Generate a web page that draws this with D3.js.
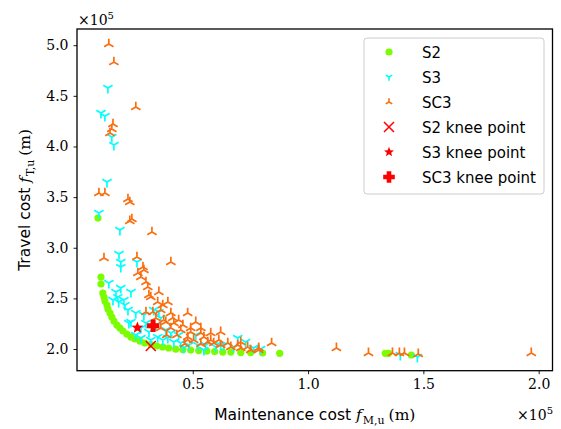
<!DOCTYPE html>
<html><head><meta charset="utf-8">
<script src="https://cdn.jsdelivr.net/npm/d3@7"></script>
<style>
html,body{margin:0;padding:0;background:#fff;}
svg{display:block;}
.tick text{font-family:"DejaVu Serif",serif;}
</style></head>
<body>
<svg id="chart" width="561" height="429"></svg>
<script>
// ---- data (values in metres) ----
const s2X = [8900,10200,10200,11000,11500,11900,12800,13200,14100,14900,15800,17100,18400,19700,21400,23200,24900,27100,29200,31800,34400,37000,39600,42600,45700,49100,52600,56100,59500,63000,66500,70800,75100,80300,87700,133500,134900,144800];
const s2Y = [329300,271100,264200,255300,251300,247400,243400,239500,235500,231600,227600,223700,220700,217800,214800,211800,209900,207900,205900,204400,203000,202000,201000,200000,199500,199000,198500,198000,197500,197000,197000,196500,196500,196100,195800,195800,195800,194100];

const s3X = [13200,10200,11900,14900,15800,12800,9300,18400,18000,18800,18800,25800,13600,18800,23200,17500,20100,17900,21900,25300,28800,33100,35300,36100,23200,29700,20600,27500,31000,34800,37000,39200,41800,44800,48300,52200,55600,60000,63400,69500,72900,67700,76400,79400,46100,54800,62100,140000,147400,31800,27500,34000,40500,15400,16700,51300,43900,38300,25300,22300];
const s3Y = [457700,433000,430000,409300,401400,364900,334300,317500,293800,285900,280900,285900,265200,260200,256300,251300,248400,246400,238500,235500,233600,238500,236500,230600,226700,225700,243400,220700,216800,211800,208900,210900,206900,205900,203900,203900,203900,202000,203900,210900,206900,202000,201000,200000,201000,199000,203900,194100,192100,208900,210900,223700,215800,248400,256300,213800,213800,218800,213800,225700];

const sc3X = [13600,15800,25300,15400,14900,14100,9300,11900,21900,22700,23600,22700,32300,11500,25800,40500,28400,26200,28800,27500,29700,30500,35300,31800,39200,34800,47800,36100,40500,32700,29700,41800,37400,44800,49100,53500,62100,56500,65200,69500,47800,51300,49100,53500,57800,54800,47800,50400,70800,73800,78600,66500,62100,59100,84200,75100,78600,70800,112300,126200,136600,139600,141800,147800,196800,38700,43100,40500,36100,38300,34000,43900,31000,37000,41300,45700,61300,53500,57800,46500];
const sc3Y = [501100,483300,438900,422100,417200,413200,354000,354000,348100,345100,328300,326400,315500,289800,290800,285900,280900,275000,278000,271100,266100,261200,256300,251300,246400,246400,235500,238500,235500,236500,236500,225700,228600,218800,216800,215800,216800,206900,205900,203900,208900,226700,220700,220700,208900,211800,211800,208900,206900,202000,201000,202000,203900,205900,205900,199000,199000,201000,201000,196100,196100,196100,196100,195100,196100,213800,213800,220700,220700,226700,230600,228600,253300,243400,230600,223700,208900,204900,215800,204900];

const kneeNames = ["S2 knee point","S3 knee point","SC3 knee point"];
const kneeX = [31800,26000,32800];
const kneeY = [203000,221000,223000];

const xTicks = [50000,100000,150000,200000];
const yTicks = [200000,250000,300000,350000,400000,450000,500000];
const legendLabels = ["S2","S3","SC3","S2 knee point","S3 knee point","SC3 knee point"];

// ---- layout ----
const L = 77, R = 552.5, T = 29, B = 370.7;
const svg = d3.select("#chart");
const x = d3.scaleLinear().domain([-200, 206000]).range([L, R]);
const y = d3.scaleLinear().domain([178600, 516000]).range([B, T]);

const cGreen = "#7cfc00", cCyan = "#00ffff", cOrange = "#fa6e10", cRed = "#ff0000";

function triPath(r, up) {
  const s = up ? 1 : -1;
  const a = r * Math.sin(Math.PI / 3), b = r * Math.cos(Math.PI / 3);
  return `M0,0L0,${-s*r}M0,0L${-a},${s*b}M0,0L${a},${s*b}`;
}
function starPath(ro, ri) {
  let p = "";
  for (let i = 0; i < 10; i++) {
    const r = i % 2 ? ri : ro, ang = -Math.PI/2 + i*Math.PI/5;
    p += (i ? "L" : "M") + (r*Math.cos(ang)).toFixed(2) + "," + (r*Math.sin(ang)).toFixed(2);
  }
  return p + "Z";
}
function plusPath(h, w) {
  return `M${-w},${-h}H${w}V${-w}H${h}V${w}H${w}V${h}H${-w}V${w}H${-h}V${-w}H${-w}Z`;
}

const g = svg.append("g");
g.append("g").selectAll("circle").data(d3.range(s2X.length)).join("circle")
  .attr("cx", i => x(s2X[i])).attr("cy", i => y(s2Y[i])).attr("r", 3.6).attr("fill", cGreen);
g.append("g").selectAll("path").data(d3.range(s3X.length)).join("path")
  .attr("transform", i => `translate(${x(s3X[i])},${y(s3Y[i])})`)
  .attr("d", triPath(5.4, false)).attr("stroke", cCyan).attr("stroke-width", 1.7).attr("fill", "none");
g.append("g").selectAll("path").data(d3.range(sc3X.length)).join("path")
  .attr("transform", i => `translate(${x(sc3X[i])},${y(sc3Y[i])})`)
  .attr("d", triPath(5.4, true)).attr("stroke", cOrange).attr("stroke-width", 1.7).attr("fill", "none");
g.append("path").attr("transform", `translate(${x(kneeX[0])},${y(kneeY[0])})`)
  .attr("d", "M-5,-5L5,5M-5,5L5,-5").attr("stroke", cRed).attr("stroke-width", 1.5);
g.append("path").attr("transform", `translate(${x(kneeX[1])},${y(kneeY[1])})`)
  .attr("d", starPath(6.2, 2.7)).attr("fill", cRed);
g.append("path").attr("transform", `translate(${x(kneeX[2])},${y(kneeY[2])})`)
  .attr("d", plusPath(6.2, 2.5)).attr("fill", cRed);

// axes
const fmt = d => (d/1e5).toFixed(1);
const xAxis = svg.append("g").attr("transform", `translate(0,${B})`)
  .call(d3.axisBottom(x).tickValues(xTicks).tickFormat(fmt).tickSize(3.5).tickPadding(5));
const yAxis = svg.append("g").attr("transform", `translate(${L},0)`)
  .call(d3.axisLeft(y).tickValues(yTicks).tickFormat(fmt).tickSize(3.5).tickPadding(5));
[xAxis, yAxis].forEach(a => {
  a.select(".domain").remove();
  a.selectAll(".tick line").attr("stroke", "#000").attr("stroke-width", 0.9);
  a.selectAll(".tick text").attr("font-size", 14).attr("fill", "#000");
});
svg.append("rect").attr("x", L).attr("y", T).attr("width", R-L).attr("height", B-T)
  .attr("fill", "none").attr("stroke", "#000").attr("stroke-width", 1.3);

function offsetText(xx, yy, anchor) {
  const t = svg.append("text").attr("x", xx).attr("y", yy).attr("text-anchor", anchor)
    .attr("font-family", "DejaVu Serif, serif").attr("font-size", 14);
  t.append("tspan").text("×10");
  t.append("tspan").attr("dy", -6).attr("font-size", 10).text("5");
}
offsetText(78, 25, "start");
offsetText(553, 420, "end");

function axisLabel(sel, word, sub) {
  sel.append("tspan").attr("font-family", "DejaVu Sans, sans-serif").text(word + " ");
  sel.append("tspan").attr("font-family", "DejaVu Serif, serif").attr("font-style", "italic").text("f");
  sel.append("tspan").attr("font-family", "DejaVu Serif, serif").attr("font-size", 11).attr("dy", 3.5).attr("dx", 1).text(sub);
  sel.append("tspan").attr("font-family", "DejaVu Serif, serif").attr("dy", -3.5).attr("dx", 4).text("(m)");
}
const xl = svg.append("text").attr("x", (L+R)/2).attr("y", 420).attr("text-anchor", "middle").attr("font-size", 15.5);
axisLabel(xl, "Maintenance cost", "M,u");
const yl = svg.append("text").attr("transform", `translate(30,${(T+B)/2}) rotate(-90)`).attr("text-anchor", "middle").attr("font-size", 15.5);
axisLabel(yl, "Travel cost", "T,u");

// legend
const lg = svg.append("g");
lg.append("rect").attr("x", 364).attr("y", 38).attr("width", 180).attr("height", 156).attr("rx", 3)
  .attr("fill", "#fff").attr("fill-opacity", 0.8).attr("stroke", "#cccccc").attr("stroke-width", 1);
const ly0 = 52, ldy = 25, lmx = 389;
legendLabels.forEach((lab, i) => {
  const yy = ly0 + i*ldy;
  const m = lg.append("g").attr("transform", `translate(${lmx},${yy})`);
  if (i === 0) m.append("circle").attr("r", 3.6).attr("fill", cGreen);
  if (i === 1) m.append("path").attr("d", triPath(3.8, false)).attr("stroke", cCyan).attr("stroke-width", 1.6).attr("fill", "none");
  if (i === 2) m.append("path").attr("d", triPath(3.8, true)).attr("stroke", cOrange).attr("stroke-width", 1.6).attr("fill", "none");
  if (i === 3) m.append("path").attr("d", "M-5,-5L5,5M-5,5L5,-5").attr("stroke", cRed).attr("stroke-width", 1.5);
  if (i === 4) m.append("path").attr("d", starPath(5.2, 2.3)).attr("fill", cRed);
  if (i === 5) m.append("path").attr("d", plusPath(5.8, 2.3)).attr("fill", cRed);
  lg.append("text").attr("x", 422).attr("y", yy + 5.5).attr("font-family", "DejaVu Sans, sans-serif")
    .attr("font-size", 15).attr("fill", "#000").text(lab);
});
</script>
</body></html>
